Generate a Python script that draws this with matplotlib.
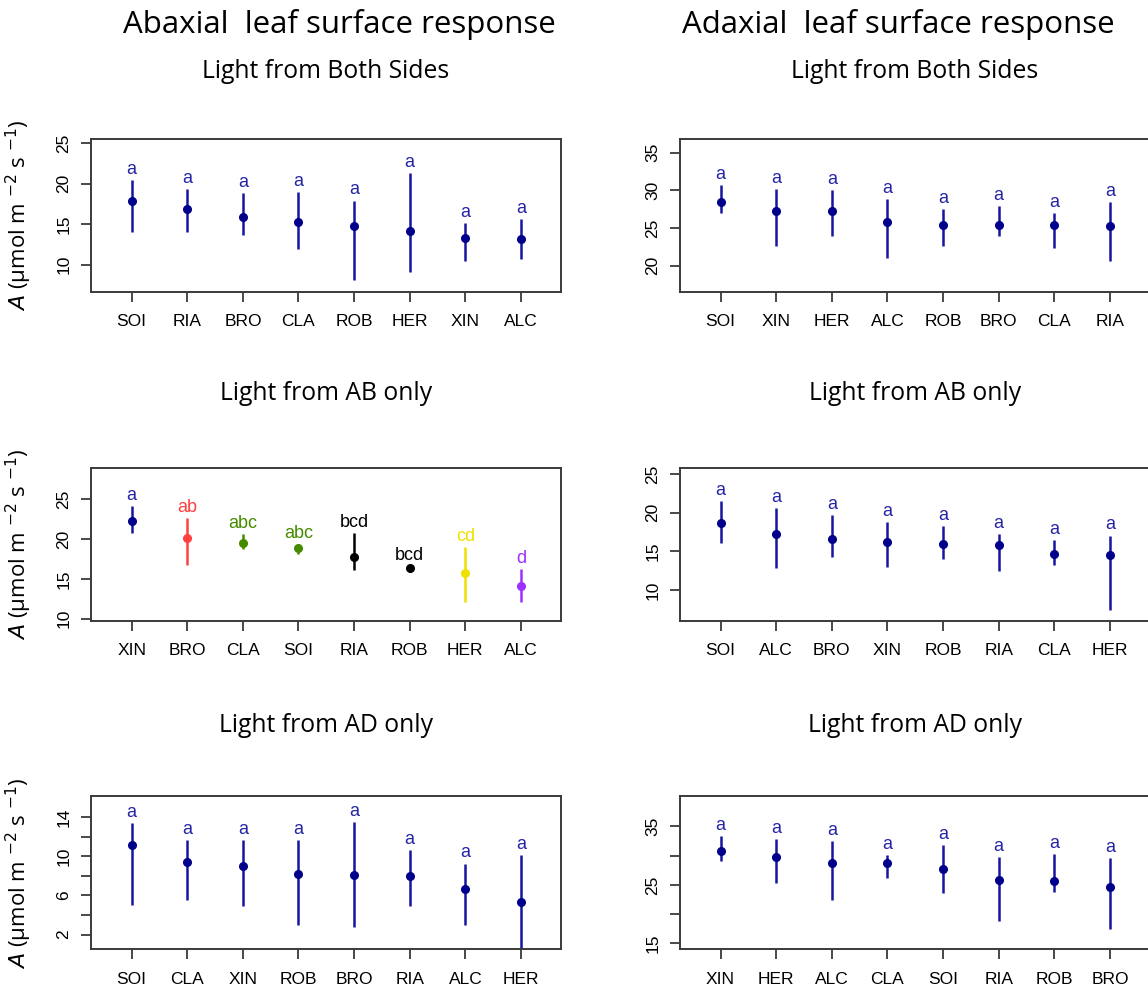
import matplotlib.pyplot as plt

# Abaxial surface, light from both sides
ab_both_sp = ['SOI', 'RIA', 'BRO', 'CLA', 'ROB', 'HER', 'XIN', 'ALC']
ab_both_mean = [17.9, 16.9, 15.9, 15.2, 14.8, 14.1, 13.3, 13.1]
ab_both_lo = [14.05, 14.0, 13.7, 11.9, 8.1, 9.05, 10.4, 10.7]
ab_both_hi = [20.45, 19.3, 18.8, 19.0, 17.9, 21.3, 15.1, 15.6]
ab_both_let = ['a'] * 8

# Adaxial surface, light from both sides
ad_both_sp = ['SOI', 'XIN', 'HER', 'ALC', 'ROB', 'BRO', 'CLA', 'RIA']
ad_both_mean = [28.5, 27.3, 27.3, 25.8, 25.4, 25.35, 25.35, 25.2]
ad_both_lo = [26.95, 22.6, 24.0, 21.0, 22.6, 24.0, 22.4, 20.6]
ad_both_hi = [30.7, 30.2, 30.0, 28.8, 27.5, 27.9, 27.0, 28.4]
ad_both_let = ['a'] * 8

# Abaxial surface, light from AB only
ab_ab_sp = ['XIN', 'BRO', 'CLA', 'SOI', 'RIA', 'ROB', 'HER', 'ALC']
ab_ab_mean = [22.3, 20.1, 19.5, 18.8, 17.7, 16.3, 15.7, 14.1]
ab_ab_lo = [20.7, 16.7, 18.7, 18.1, 16.1, 15.8, 12.1, 12.1]
ab_ab_hi = [24.1, 22.6, 20.6, 19.4, 20.7, 16.6, 19.0, 16.2]
ab_ab_let = ['a', 'ab', 'abc', 'abc', 'bcd', 'bcd', 'cd', 'd']
ab_ab_col = ['#00008B', '#FF4040', '#458B00', '#458B00', 'black', 'black', '#EEE000', '#9B30FF']

# Adaxial surface, light from AB only
ad_ab_sp = ['SOI', 'ALC', 'BRO', 'XIN', 'ROB', 'RIA', 'CLA', 'HER']
ad_ab_mean = [18.7, 17.2, 16.6, 16.2, 15.9, 15.8, 14.7, 14.6]
ad_ab_lo = [16.15, 12.85, 14.35, 12.95, 14.0, 12.45, 13.2, 7.45]
ad_ab_hi = [21.55, 20.65, 19.75, 18.8, 18.25, 17.2, 16.45, 17.05]
ad_ab_let = ['a'] * 8

# Abaxial surface, light from AD only
ab_ad_sp = ['SOI', 'CLA', 'XIN', 'ROB', 'BRO', 'RIA', 'ALC', 'HER']
ab_ad_mean = [11.15, 9.4, 8.95, 8.15, 8.05, 8.0, 6.7, 5.3]
ab_ad_lo = [5.05, 5.5, 4.9, 3.0, 2.8, 4.9, 2.95, 0.0]
ab_ad_hi = [13.4, 11.65, 11.65, 11.65, 13.5, 10.6, 9.25, 10.1]
ab_ad_let = ['a'] * 8

# Adaxial surface, light from AD only
ad_ad_sp = ['XIN', 'HER', 'ALC', 'CLA', 'SOI', 'RIA', 'ROB', 'BRO']
ad_ad_mean = [30.7, 29.7, 28.8, 28.7, 27.65, 25.85, 25.6, 24.7]
ad_ad_lo = [29.05, 25.4, 22.35, 26.15, 23.65, 18.85, 23.8, 17.5]
ad_ad_hi = [33.3, 32.85, 32.45, 30.05, 31.85, 29.75, 30.2, 29.6]
ad_ad_let = ['a'] * 8

NAVY = '#00008B'
LINE = '#1515A0'
FRAME = '#3a3a3a'
TITLE_FONT = 'Open Sans'
TICK_FONT = 'Liberation Sans'

fig = plt.figure(figsize=(11.48, 9.89), dpi=100)

col_x = [0.0793, 0.5923]
row_y = [0.7047, 0.3721, 0.0401]
w, h = 0.4094, 0.1547


def panel(ax, species, means, lo, hi, letters, ylim, yticks, ylabels, colors=None):
    n = len(species)
    pos = list(range(1, n + 1))
    if colors is None:
        colors = [NAVY] * n
    for x, m, l, u, t, c in zip(pos, means, lo, hi, letters, colors):
        lc = LINE if c == NAVY else c
        tc = '#2525A5' if c == NAVY else c
        ax.vlines(x, l, u, color=lc, lw=1.8)
        ax.plot(x, m, 'o', color=c, ms=5.5)
        ax.annotate(t, (x, u), xytext=(0, 1.5), textcoords='offset points',
                    ha='center', va='bottom', color=tc, fontsize=13,
                    family=TICK_FONT)
    ax.set_xlim(0.27, 8.72)
    ax.set_ylim(*ylim)
    ax.set_xticks(pos)
    ax.set_xticklabels(species, family=TICK_FONT, fontsize=12.5)
    ax.set_yticks(yticks)
    ax.set_yticklabels(ylabels, family=TICK_FONT, fontsize=12.5,
                       rotation=90, va='center')
    ax.tick_params(axis='both', length=7, width=1.3, color=FRAME)
    ax.tick_params(axis='x', pad=9)
    ax.tick_params(axis='y', pad=7)
    for s in ax.spines.values():
        s.set_color(FRAME)
        s.set_linewidth(1.4)


def ylab(ax):
    ax.set_ylabel('$\\mathit{A}$ (µmol m $^{-2}$ s $^{-1}$)', fontsize=16,
                  family='Open Sans')
    ax.yaxis.set_label_coords(-0.121, 0.5)


axes = [[fig.add_axes([cx, ry, w, h]) for cx in col_x] for ry in row_y]

panel(axes[0][0], ab_both_sp, ab_both_mean, ab_both_lo, ab_both_hi, ab_both_let,
      (6.6, 25.5), [10, 15, 20, 25], ['10', '15', '20', '25'])
panel(axes[0][1], ad_both_sp, ad_both_mean, ad_both_lo, ad_both_hi, ad_both_let,
      (16.5, 36.8), [20, 25, 30, 35], ['20', '25', '30', '35'])
panel(axes[1][0], ab_ab_sp, ab_ab_mean, ab_ab_lo, ab_ab_hi, ab_ab_let,
      (9.7, 28.9), [10, 15, 20, 25], ['10', '15', '20', '25'], colors=ab_ab_col)
panel(axes[1][1], ad_ab_sp, ad_ab_mean, ad_ab_lo, ad_ab_hi, ad_ab_let,
      (6.05, 25.75), [10, 15, 20, 25], ['10', '15', '20', '25'])
panel(axes[2][0], ab_ad_sp, ab_ad_mean, ab_ad_lo, ab_ad_hi, ab_ad_let,
      (0.5, 16.1), [2, 4, 6, 8, 10, 12, 14], ['2', '', '6', '', '10', '', '14'])
panel(axes[2][1], ad_ad_sp, ad_ad_mean, ad_ad_lo, ad_ad_hi, ad_ad_let,
      (14.0, 40.1), [15, 20, 25, 30, 35], ['15', '', '25', '', '35'])

for r in range(3):
    ylab(axes[r][0])

# column headers and panel titles
fig.text(339 / 1148, 1 - 24 / 989, 'Abaxial  leaf surface response', ha='center',
         va='center', fontsize=22.5, family=TITLE_FONT)
fig.text(898 / 1148, 1 - 24 / 989, 'Adaxial  leaf surface response', ha='center',
         va='center', fontsize=22.5, family=TITLE_FONT)

sub_titles = ['Light from Both Sides', 'Light from AB only', 'Light from AD only']
sub_y = [72, 393, 725]
for t, yy in zip(sub_titles, sub_y):
    for cx in col_x:
        fig.text(cx + w / 2, 1 - yy / 989, t, ha='center', va='center',
                 fontsize=17.8, family=TITLE_FONT)

fig.savefig('out.png', dpi=100)
